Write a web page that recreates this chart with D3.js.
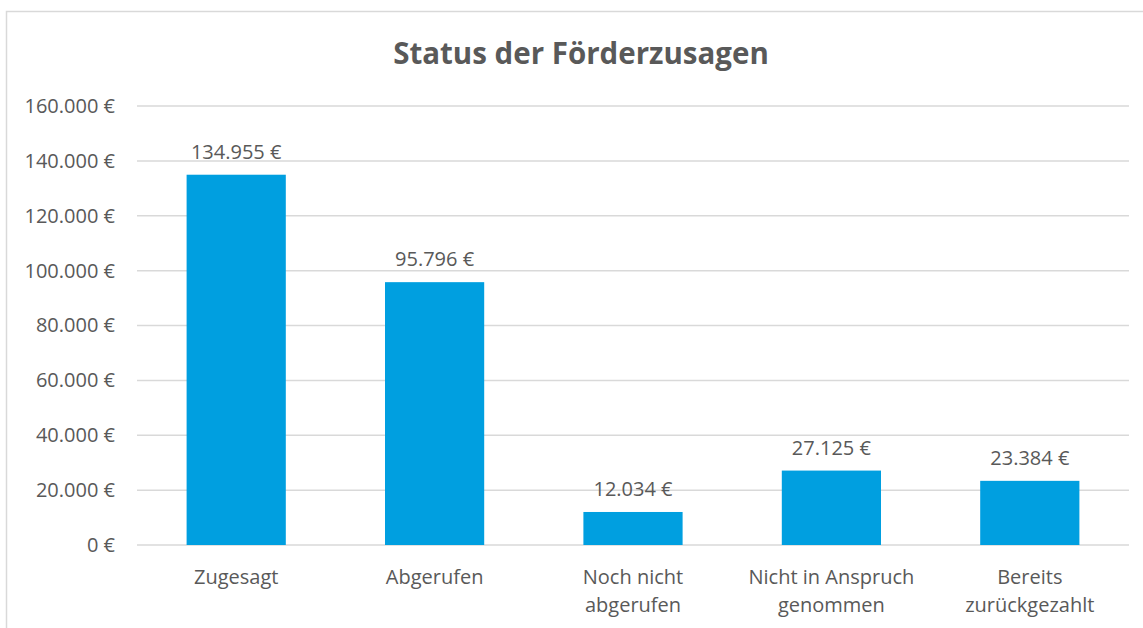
<!DOCTYPE html>
<html>
<head>
<meta charset="utf-8">
<script src="https://cdn.jsdelivr.net/npm/d3@7"></script>
<style>
  body { margin: 0; background: #fff; }
  text { font-family: "Open Sans", "Liberation Sans", sans-serif; fill: #595959; }
</style>
</head>
<body>
<div id="chart"></div>
<script>
// data
var categories = ["Zugesagt", "Abgerufen", "Noch nicht abgerufen", "Nicht in Anspruch genommen", "Bereits zurückgezahlt"];
var labelLines = [["Zugesagt"], ["Abgerufen"], ["Noch nicht", "abgerufen"], ["Nicht in Anspruch", "genommen"], ["Bereits", "zurückgezahlt"]];
var values = [134955, 95796, 12034, 27125, 23384];
var yTicks = [0, 20000, 40000, 60000, 80000, 100000, 120000, 140000, 160000];

var W = 1143, H = 628;
var margin = { top: 106, right: 14, bottom: 83, left: 137 },
    width = W - margin.left - margin.right,
    height = H - margin.top - margin.bottom;

var fmt = function (v) {
  return d3.format(",")(v).replace(/,/g, ".") + " €";
};

var root = d3.select("#chart").append("svg")
  .attr("width", W)
  .attr("height", H);

// chart frame
root.append("rect")
  .attr("x", 6.5).attr("y", 11.5)
  .attr("width", W + 10).attr("height", H + 10)
  .attr("fill", "none")
  .attr("stroke", "#d9d9d9")
  .attr("stroke-width", 1.5);

root.append("text")
  .attr("x", 581).attr("y", 64)
  .attr("text-anchor", "middle")
  .style("font-size", "29.5px")
  .style("font-weight", "bold")
  .text("Status der Förderzusagen");

var svg = root.append("g")
  .attr("transform", "translate(" + margin.left + "," + margin.top + ")");

var x = d3.scaleBand()
  .domain(categories)
  .range([0, width])
  .paddingInner(0.5)
  .paddingOuter(0.25);

var y = d3.scaleLinear()
  .domain([0, 160000])
  .range([height, 0]);

// gridlines
svg.append("g")
  .selectAll("line")
  .data(yTicks)
  .enter().append("line")
  .attr("x1", 0).attr("x2", width)
  .attr("y1", function (d) { return y(d); })
  .attr("y2", function (d) { return y(d); })
  .attr("stroke", "#d9d9d9")
  .attr("stroke-width", 1.5);

// y labels
var yAxis = svg.append("g")
  .call(d3.axisLeft(y).tickValues(yTicks).tickFormat(fmt).tickSize(0).tickPadding(22));
yAxis.select(".domain").remove();
yAxis.selectAll("text")
  .style("font-size", "20px")
  .style("font-family", null)
  .attr("fill", null);

// bars
svg.append("g")
  .selectAll("rect")
  .data(values)
  .enter().append("rect")
  .attr("x", function (d, i) { return x(categories[i]); })
  .attr("y", function (d) { return y(d); })
  .attr("width", x.bandwidth())
  .attr("height", function (d) { return height - y(d); })
  .attr("fill", "#009fe0");

// value labels
svg.append("g")
  .selectAll("text")
  .data(values)
  .enter().append("text")
  .attr("x", function (d, i) { return x(categories[i]) + x.bandwidth() / 2; })
  .attr("y", function (d) { return y(d) - 16; })
  .attr("text-anchor", "middle")
  .style("font-size", "20px")
  .text(function (d) { return fmt(d); });

// x labels
var xl = svg.append("g")
  .selectAll("text")
  .data(categories)
  .enter().append("text")
  .attr("x", function (d) { return x(d) + x.bandwidth() / 2; })
  .attr("y", height + 39)
  .attr("text-anchor", "middle")
  .style("font-size", "20px");
xl.selectAll("tspan")
  .data(function (d, i) { return labelLines[i]; })
  .enter().append("tspan")
  .attr("x", function () { return d3.select(this.parentNode).attr("x"); })
  .attr("dy", function (d, i) { return i === 0 ? 0 : 28; })
  .text(function (d) { return d; });
</script>
</body>
</html>
